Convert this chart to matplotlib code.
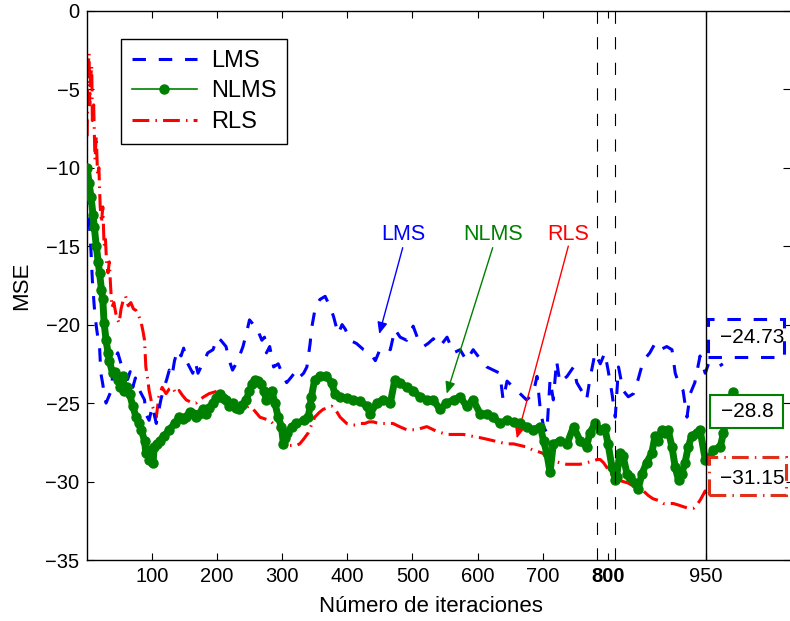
"""
MSE learning curves of LMS, NLMS and RLS adaptive filters.
Values read off the reference figure.
"""

import matplotlib
matplotlib.use('Agg')
import matplotlib.pyplot as plt
from matplotlib.patches import Rectangle

plt.rcParams['font.family'] = ['Liberation Sans', 'DejaVu Sans']

# LMS curve (iteration, MSE dB)
lms_x = [1, 4, 7, 9, 12, 15, 18, 20, 22, 25, 27, 30, 34, 38, 42, 48, 53, 58, 63, 67,
         71, 75, 79, 84, 89, 91, 96, 101, 107, 114, 119, 123, 127, 131, 135, 140, 145, 149,
         153, 158, 163, 167, 171, 178, 186, 194, 201, 206, 214, 219, 224, 232, 240, 245,
         250, 254, 258, 261, 265, 269, 273, 276, 281, 287, 294, 302, 307, 315, 322, 328,
         333, 338, 343, 345, 351, 358, 366, 374, 379, 386, 392, 397, 404, 414, 425, 435,
         443, 450, 458, 466, 473, 481, 491, 501, 509, 517, 524, 532, 542, 553, 563, 573,
         583, 593, 604, 614, 624, 634, 639, 645, 655, 665, 675, 685, 691, 696, 701, 706,
         711, 716, 721, 726, 737, 747, 752, 762, 767, 772, 780, 788, 795, 800, 806, 811,
         816, 823, 831, 839, 846, 854, 864, 872, 880, 890, 898, 903, 908, 915, 921, 926,
         933, 941, 949, 954, 961, 969, 976]
lms_y = [-11.5, -13.3, -15.4, -17.2, -18.9, -20.1, -21.0, -21.4, -23.1, -23.8, -24.4, -25.0,
         -24.6, -24.2, -22.3, -21.8, -22.5, -23.1, -23.5, -23.0, -24.0, -23.4, -24.0, -24.4,
         -24.8, -25.7, -26.1, -25.2, -26.3, -24.8, -24.0, -23.5, -22.9, -23.3, -22.3, -21.6,
         -22.0, -21.5, -22.3, -22.7, -23.1, -22.4, -23.1, -22.5, -21.8, -21.6, -20.8, -21.0,
         -21.4, -22.3, -22.9, -22.3, -21.4, -20.6, -19.7, -19.9, -20.1, -20.1, -20.6, -21.0,
         -20.8, -21.8, -21.4, -22.7, -22.5, -23.3, -23.7, -23.3, -22.9, -23.3, -23.1, -22.7,
         -21.2, -20.3, -18.9, -18.4, -18.2, -18.9, -19.5, -20.6, -20.0, -20.3, -21.0, -21.2,
         -21.6, -21.8, -22.3, -21.6, -21.4, -21.6, -20.3, -20.8, -21.0, -20.1, -21.0, -21.4,
         -21.2, -20.9, -21.4, -20.8, -21.8, -21.6, -22.3, -21.6, -22.2, -22.7, -22.9, -23.1,
         -24.8, -23.6, -24.0, -24.4, -24.8, -24.4, -23.3, -25.4, -26.5, -26.9, -23.5, -24.8,
         -22.3, -23.7, -23.3, -22.7, -23.7, -24.4, -24.8, -23.5, -21.8, -22.5, -21.8, -22.9,
         -24.4, -25.9, -22.7, -24.2, -24.6, -24.4, -23.5, -22.3, -21.8, -21.2, -21.6, -21.4,
         -21.6, -23.1, -23.7, -24.2, -25.9, -24.4, -23.7, -22.0, -23.1, -22.5, -22.5, -22.7,
         -22.5]

# NLMS curve
nlms_x = [1, 4, 7, 10, 12, 15, 18, 20, 23, 25, 27, 30, 33, 35, 40, 44, 48, 52, 56, 58,
          62, 66, 71, 76, 80, 84, 89, 91, 94, 96, 99, 102, 104, 108, 112, 119, 127, 135,
          142, 148, 153, 158, 163, 168, 173, 178, 183, 188, 194, 199, 204, 209, 214, 219,
          224, 229, 234, 239, 245, 250, 254, 258, 263, 268, 272, 276, 280, 284, 289, 294,
          299, 302, 305, 308, 315, 322, 333, 340, 343, 345, 350, 358, 368, 376, 381, 389,
          399, 409, 420, 430, 435, 445, 455, 466, 473, 481, 491, 501, 511, 522, 532, 542,
          552, 563, 573, 583, 593, 604, 614, 624, 634, 645, 655, 665, 675, 685, 696, 701,
          706, 711, 716, 726, 737, 747, 757, 767, 772, 780, 788, 795, 800, 806, 811, 813,
          818, 823, 829, 834, 841, 846, 852, 859, 867, 872, 877, 882, 887, 892, 898, 903,
          908, 913, 918, 923, 928, 936, 941, 949, 955, 961, 972, 977, 982, 987, 991]
nlms_y = [-10.0, -11.0, -11.9, -13.0, -13.8, -15.0, -16.0, -16.7, -17.8, -18.4, -19.9,
          -21.0, -21.8, -22.3, -23.1, -23.0, -23.5, -24.0, -23.3, -24.2, -24.0, -24.4, -25.2,
          -25.9, -26.3, -26.7, -27.4, -28.2, -28.0, -28.6, -28.2, -28.8, -27.8, -27.6, -27.4,
          -27.1, -26.7, -26.3, -25.9, -26.0, -25.9, -25.6, -25.7, -25.9, -25.7, -25.4, -25.7,
          -25.3, -25.0, -24.7, -24.4, -24.7, -24.8, -25.2, -25.0, -25.3, -25.4, -25.1, -24.8,
          -24.2, -23.8, -23.5, -23.6, -23.8, -24.2, -24.8, -24.4, -24.2, -25.0, -25.9, -26.5,
          -27.6, -27.2, -26.9, -26.5, -26.3, -26.1, -25.9, -25.2, -24.6, -23.5, -23.3, -23.3,
          -23.7, -24.4, -24.6, -24.7, -24.8, -24.9, -25.2, -25.7, -25.0, -24.8, -25.0, -23.5,
          -23.7, -24.0, -24.2, -24.6, -24.8, -24.8, -25.4, -25.0, -24.8, -24.6, -25.2, -24.8,
          -25.7, -25.7, -25.9, -26.3, -26.1, -26.2, -26.3, -26.5, -26.7, -26.5, -27.4, -28.2,
          -29.4, -27.6, -27.4, -27.6, -26.5, -27.4, -27.8, -26.9, -26.3, -26.7, -26.6, -27.6,
          -29.1, -29.9, -29.7, -28.2, -28.4, -29.5, -29.7, -30.1, -30.5, -29.5, -28.8, -28.2,
          -27.1, -27.4, -26.7, -26.9, -26.7, -27.8, -29.1, -29.9, -29.5, -28.8, -27.8, -27.1,
          -26.9, -26.7, -28.6, -28.6, -28.0, -27.8, -26.9, -25.9, -24.8, -24.3]

# RLS curve
rls_x = [1, 2, 4, 5, 6, 8, 9, 11, 13, 15, 17, 19, 21, 23, 25, 27, 29, 31, 33, 35, 37, 39,
         42, 45, 48, 50, 53, 56, 60, 64, 68, 72, 76, 79, 84, 87, 89, 91, 94, 96, 101, 104,
         107, 111, 116, 122, 127, 132, 137, 142, 147, 153, 158, 163, 168, 173, 180, 188,
         196, 204, 211, 219, 226, 234, 242, 250, 258, 266, 273, 281, 286, 292, 296, 299,
         303, 307, 312, 317, 322, 327, 333, 340, 345, 350, 357, 363, 370, 376, 383, 389,
         394, 399, 407, 414, 420, 427, 433, 440, 448, 455, 462, 470, 480, 491, 499, 506,
         514, 522, 527, 537, 545, 552, 565, 578, 590, 603, 614, 624, 634, 644, 655, 665,
         675, 685, 693, 700, 708, 716, 726, 736, 747, 757, 767, 777, 783, 788, 793, 798,
         803, 808, 815, 823, 831, 839, 846, 854, 862, 869, 877, 885, 892, 900, 908, 915,
         923, 931, 936, 941, 945, 949, 951]
rls_y = [-8.0, -4.0, -2.7, -6.0, -4.5, -3.5, -7.0, -6.0, -9.5, -8.0, -10.5, -10.0, -12.5,
         -13.5, -12.5, -15.0, -14.5, -16.2, -16.7, -16.0, -17.6, -18.9, -18.6, -19.3, -19.7,
         -19.9, -19.0, -18.5, -18.2, -18.8, -18.6, -19.0, -19.1, -19.3, -19.9, -20.5, -21.0,
         -22.7, -23.5, -24.2, -25.2, -25.5, -25.9, -24.6, -24.0, -24.4, -24.1, -24.0, -24.4,
         -24.2, -24.5, -24.8, -24.9, -25.0, -25.0, -24.8, -24.6, -24.4, -24.3, -24.2, -24.5,
         -24.8, -25.0, -25.2, -25.3, -25.2, -25.5, -25.9, -26.0, -26.1, -26.3, -26.5, -26.7,
         -26.9, -27.2, -27.6, -27.7, -27.7, -27.7, -27.6, -27.3, -26.9, -26.4, -25.9, -25.6,
         -25.4, -25.3, -25.2, -25.5, -25.9, -26.1, -26.3, -26.4, -26.4, -26.3, -26.3, -26.2,
         -26.2, -26.3, -26.3, -26.3, -26.3, -26.5, -26.7, -26.7, -26.7, -26.6, -26.5, -26.6,
         -26.8, -26.9, -27.0, -27.0, -27.0, -27.1, -27.2, -27.3, -27.4, -27.5, -27.6, -27.6,
         -27.7, -27.8, -28.0, -28.1, -28.2, -28.4, -28.7, -28.8, -28.9, -28.9, -28.9, -28.8,
         -28.7, -28.6, -28.6, -28.8, -29.1, -29.4, -29.7, -29.9, -30.0, -30.1, -30.3, -30.4,
         -30.6, -30.9, -31.1, -31.2, -31.4, -31.4, -31.4, -31.5, -31.6, -31.7, -31.7, -31.5,
         -31.2, -30.9, -30.6, -30.9]

# axis ticks and marked iterations
x_ticks = [100, 200, 300, 400, 500, 600, 700, 800, 950]
y_ticks = [0, -5, -10, -15, -20, -25, -30, -35]
window_lines = [783, 811]
end_line = 950

# final MSE values shown in boxes
final_labels = ['\u221224.73', '\u221228.8', '\u221231.15']


def main():
    fig = plt.figure(figsize=(7.9, 6.21), dpi=100)
    ax = fig.add_axes([86.5 / 790, 61 / 621, 703.5 / 790, 549.3 / 621])

    blue, green, red = '#0000ff', '#008000', '#ff0000'

    ax.plot(lms_x, lms_y, color=blue, lw=2.2, dashes=(4.4, 4.2), label='LMS', zorder=3)
    # heavy trace under the markers so the dense NLMS dots read as one band
    ax.plot(nlms_x, nlms_y, color=green, lw=5.0, solid_joinstyle='round',
            solid_capstyle='round', zorder=4)
    ax.plot(nlms_x, nlms_y, color=green, lw=1.2, marker='o', ms=6.5, mec=green,
            mfc=green, label='NLMS', zorder=4)
    ax.plot(rls_x, rls_y, color=red, lw=2.2, dashes=(5.5, 2.0, 0.5, 2.0),
            label='RLS', zorder=2)

    for xv in window_lines:
        ax.axvline(xv, color='black', lw=0.8, dashes=(11, 12), zorder=5)
    ax.axvline(end_line, color='black', lw=1.0, zorder=5)

    ax.set_xlim(0, 1079)
    ax.set_ylim(-35, 0)
    ax.set_xticks(x_ticks)
    ax.set_xticklabels([str(t) for t in x_ticks])
    ax.get_xticklabels()[7].set_fontweight('bold')
    ax.set_yticks(y_ticks)
    ax.tick_params(direction='in', length=5, width=0.8, top=True, right=True,
                   labelsize=14.5, pad=5)
    for side in ['left', 'bottom', 'top']:
        ax.spines[side].set_linewidth(1.0)
    ax.spines['right'].set_visible(False)

    ax.set_xlabel('Número de iteraciones', fontsize=16)
    ax.set_ylabel('MSE', fontsize=16)
    ax.xaxis.set_label_coords(0.49, -0.065)
    ax.yaxis.set_label_coords(-0.078, 0.5)

    leg = ax.legend(loc='upper left', bbox_to_anchor=(0.049, 0.948), fontsize=17,
                    numpoints=1, handlelength=2.75, handletextpad=0.6, labelspacing=0.36,
                    borderpad=0.45, borderaxespad=0, fancybox=False, framealpha=1,
                    edgecolor='black')
    leg.get_frame().set_linewidth(1.0)

    # arrows pointing to each curve
    notes = [('LMS', blue, (486, -14.29), (485, -15.1), (449, -20.6)),
             ('NLMS', green, (623, -14.29), (623, -15.1), (552.5, -24.4)),
             ('RLS', red, (739, -14.29), (739, -15.0), (660, -27.25))]
    for txt, col, tpos, tail, tip in notes:
        ax.text(tpos[0], tpos[1], txt, color=col, fontsize=15.5, ha='center', va='center')
        ax.annotate('', xy=tip, xytext=tail,
                    arrowprops=dict(arrowstyle='-|>,head_length=0.7,head_width=0.3',
                                    color=col, lw=1.0, shrinkA=0, shrinkB=0))

    # boxes with final values
    boxes = [(953, -22.06, 117, 2.42, blue, (4.4, 4.2), 2.2, (1021, -20.82)),
             (956, -26.61, 112, 2.12, green, None, 1.5, (1014, -25.55)),
             (955, -30.86, 118, 2.44, '#e0301a', (5.5, 2.0, 0.5, 2.0), 2.2, (1021, -29.78))]
    for (bx, by, bw, bh, col, dash, lw, tpos), label in zip(boxes, final_labels):
        rect = Rectangle((bx, by), bw, bh, facecolor='white', edgecolor=col, lw=lw,
                         zorder=6, clip_on=False)
        if dash is not None:
            rect.set_linestyle((0, dash))
        ax.add_patch(rect)
        ax.text(tpos[0], tpos[1], label, fontsize=15, ha='center', va='center', zorder=7)

    fig.savefig('out.png', dpi=100)


if __name__ == '__main__':
    main()
